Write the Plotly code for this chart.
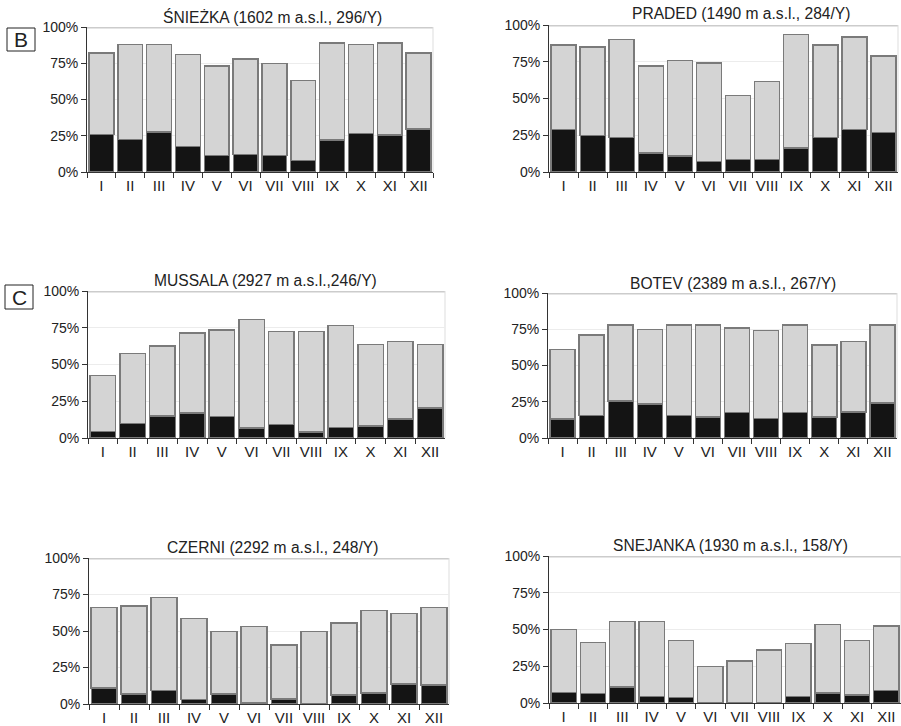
import plotly.graph_objects as go

months = ["I", "II", "III", "IV", "V", "VI", "VII", "VIII", "IX", "X", "XI", "XII"]

titles = [
    "ŚNIEŻKA (1602 m a.s.l., 296/Y)",
    "PRADED (1490 m a.s.l., 284/Y)",
    "MUSSALA (2927 m a.s.l.,246/Y)",
    "BOTEV (2389 m a.s.l., 267/Y)",
    "CZERNI (2292 m a.s.l., 248/Y)",
    "SNEJANKA (1930 m a.s.l., 158/Y)",
]

# total height of each bar (%)
snezka_total = [82, 88, 88, 81, 73, 78, 75, 63, 89, 88, 89, 82]
praded_total = [86.5, 85, 90, 72, 76, 74, 52, 61.5, 93.5, 86.5, 92, 79]
mussala_total = [42.5, 57.5, 62.5, 71.5, 73.5, 80.5, 72.5, 72.5, 76.5, 63.5, 65.5, 63.5]
botev_total = [61, 71, 78, 75, 78, 78, 76, 74, 78, 64, 66.5, 78]
czerni_total = [66, 67, 73, 58.5, 49.5, 53, 40.5, 49.5, 55.5, 64, 62, 66]
snejanka_total = [50, 41, 55.5, 55.5, 42.5, 25, 28.5, 36, 40.5, 53.5, 42.5, 52.5]

# black (lower) part of each bar (%)
snezka_black = [26, 22.5, 27.5, 17.5, 11.5, 12, 11.5, 8, 22, 26.5, 25.5, 29.5]
praded_black = [29, 25, 23.5, 13, 11, 7, 8.5, 8.5, 16.5, 23.5, 29, 27]
mussala_black = [4.5, 10, 15, 17, 14.5, 6.8, 9.3, 4, 7, 8, 13, 20.5]
botev_black = [13, 15.5, 25.5, 23.5, 15.5, 14.5, 17.5, 13.3, 17.5, 14.5, 18, 24]
czerni_black = [11, 6.8, 9.3, 3.2, 6.8, 0.6, 3.4, 0, 6.2, 7.5, 13.7, 13]
snejanka_black = [7.3, 6.6, 11, 4.3, 3.6, 0, 0, 0, 4.3, 6.8, 5.4, 8.4]

totals = [snezka_total, praded_total, mussala_total, botev_total, czerni_total, snejanka_total]
blacks = [snezka_black, praded_black, mussala_black, botev_black, czerni_black, snejanka_black]

W, H = 901, 726
# plot areas in pixels: (left, right, top(100%), bottom(0%))
boxes = [
    (87, 433, 27, 172),
    (549, 898, 25, 172),
    (88, 445, 291, 438),
    (548, 897, 293, 438),
    (89, 449, 558, 704),
    (549, 901, 556, 703),
]

FONT = "Liberation Sans, Arial, Helvetica, sans-serif"
fig = go.Figure()
layout = dict(
    width=W, height=H, autosize=False,
    margin=dict(l=0, r=0, t=0, b=0, pad=0, autoexpand=False),
    paper_bgcolor="white", plot_bgcolor="white",
    barmode="stack", bargap=0.14, showlegend=False,
    font=dict(family=FONT, color="#222", size=14),
)
shapes = []
annotations = []

for i in range(6):
    n = i + 1
    xs = "" if n == 1 else str(n)
    tot, blk = totals[i], blacks[i]
    gray = [t - b for t, b in zip(tot, blk)]
    fig.add_trace(go.Bar(x=months, y=blk, xaxis="x" + xs, yaxis="y" + xs,
                         marker=dict(color="#141414", line=dict(color="#7a7a7a", width=1.2)),
                         hoverinfo="skip"))
    fig.add_trace(go.Bar(x=months, y=gray, xaxis="x" + xs, yaxis="y" + xs,
                         marker=dict(color="#d4d4d4", line=dict(color="#7a7a7a", width=1.5)),
                         hoverinfo="skip"))
    l, r, t, b = boxes[i]
    xd = [l / W, min(r / W, 1.0)]
    yd = [1 - b / H, 1 - t / H]
    layout["xaxis" + xs] = dict(
        domain=xd, anchor="y" + xs, type="category", automargin=False,
        range=[-0.5, 11.5], showline=True, linecolor="#333", linewidth=1,
        ticks="outside", tickson="boundaries", ticklen=5, tickcolor="#333",
        tickangle=0, ticklabelstandoff=0,
        tickfont=dict(size=15, color="#222", family=FONT), showgrid=False,
        fixedrange=True,
    )
    layout["yaxis" + xs] = dict(
        domain=yd, anchor="x" + xs, range=[0, 100], automargin=False,
        tickvals=[0, 25, 50, 75, 100], ticktext=["0%", "25%", "50%", "75%", "100%"],
        showline=True, linecolor="#333", linewidth=1,
        ticks="outside", ticklen=5, tickcolor="#333",
        tickfont=dict(size=14, color="#222", family=FONT),
        showgrid=True, gridcolor="#ececec", gridwidth=1, zeroline=False,
        fixedrange=True,
    )
    # top 100% band and faint right border
    shapes.append(dict(type="line", xref=f"x{xs} domain", yref=f"y{xs}",
                       x0=0, x1=1, y0=100, y1=100, line=dict(color="#cccccc", width=3),
                       layer="below"))
    shapes.append(dict(type="line", xref=f"x{xs} domain", yref=f"y{xs}",
                       x0=1, x1=1, y0=0, y1=100, line=dict(color="#dddddd", width=1),
                       layer="below"))
    # title
    tx = [272, 741, 265, 733, 272, 730][i]
    ty = [17, 13, 280, 283, 547, 545][i]
    annotations.append(dict(text=titles[i], x=tx / W, y=1 - ty / H, xref="paper", yref="paper",
                            xanchor="center", yanchor="middle", showarrow=False,
                            font=dict(size=15.6, color="#222", family=FONT)))

# panel letters in boxes
for letter, (x0, x1, y0, y1) in [("B", (7, 35, 28, 51)), ("C", (5, 33, 285, 309))]:
    shapes.append(dict(type="rect", xref="paper", yref="paper",
                       x0=x0 / W, x1=x1 / W, y0=1 - y1 / H, y1=1 - y0 / H,
                       line=dict(color="#222", width=1), fillcolor="white"))
    annotations.append(dict(text=letter, x=(x0 + x1) / 2 / W, y=1 - (y0 + y1) / 2 / H,
                            xref="paper", yref="paper", xanchor="center", yanchor="middle",
                            showarrow=False, font=dict(size=21, color="#222", family=FONT)))

layout["shapes"] = shapes
layout["annotations"] = annotations
fig.update_layout(**layout)

post = (
    "document.documentElement.style.margin='0';"
    "document.documentElement.style.overflow='hidden';"
    "document.body.style.margin='0';document.body.style.padding='0';"
    "document.body.style.overflow='hidden';"
    "var d=document.getElementById('{plot_id}');"
    "d.style.position='absolute';d.style.left='0px';d.style.top='0px';"
)
fig.write_html("out.html", config={"displayModeBar": False}, post_script=post)
